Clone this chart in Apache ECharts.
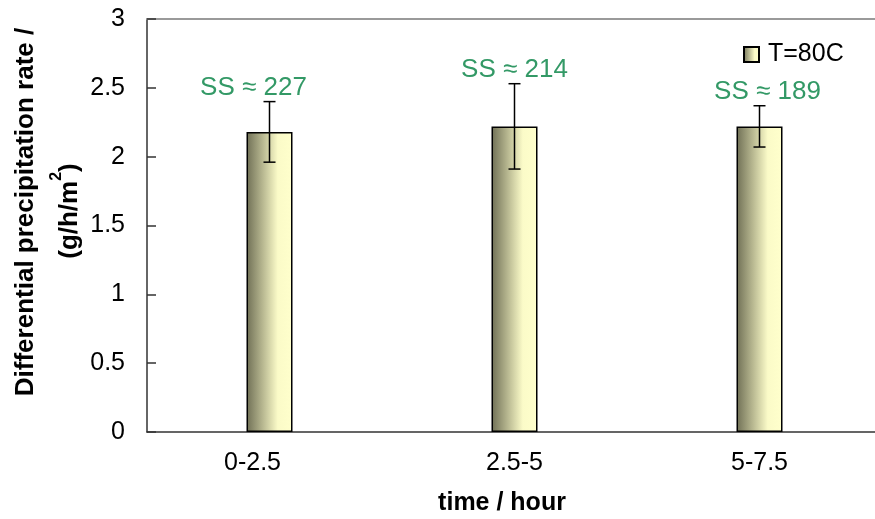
<!DOCTYPE html>
<html>
<head>
<meta charset="utf-8">
<script src="https://cdn.jsdelivr.net/npm/echarts@6/dist/echarts.min.js"></script>
<style>
  html, body { margin: 0; padding: 0; background: #fff; }
  #chart { width: 875px; height: 519px; }
</style>
</head>
<body>
<div id="chart"></div>
<script>
// Time windows (hours)
const categories = ['0-2.5', '2.5-5', '5-7.5'];
// Mean differential precipitation rate, g/h/m2
const rates = [2.18, 2.22, 2.22];
// Error bar half-widths
const rateErrors = [0.22, 0.31, 0.15];
// Supersaturation annotations
const ssValues = [227, 214, 189];
const seriesName = 'T=80C';
const yTicks = { min: 0, max: 3, step: 0.5 };

// Horizontal nudges for the SS annotations (px)
const ssLabelShift = [-16, 0, 8];

const FONT = 'Liberation Sans, Arial, sans-serif';

const barFill = {
  type: 'linear', x: 0, y: 0, x2: 1, y2: 0,
  colorStops: [
    { offset: 0, color: '#6f6f55' },
    { offset: 0.68, color: '#fbfbc8' },
    { offset: 1, color: '#ffffcc' }
  ]
};

const errorData = categories.map((c, i) => [
  i, rates[i] - rateErrors[i], rates[i] + rateErrors[i], ssValues[i]
]);

const chart = echarts.init(document.getElementById('chart'), null, { renderer: 'canvas' });

chart.setOption({
  animation: false,
  backgroundColor: '#fff',
  grid: {
    left: 147, top: 19, bottom: 87, right: -7,
    containLabel: false, outerBoundsMode: 'none'
  },
  legend: {
    data: [seriesName],
    left: 743, top: 42,
    padding: 0,
    itemWidth: 15, itemHeight: 15,
    icon: 'rect',
    textStyle: { fontFamily: FONT, fontSize: 25, color: '#000', padding: [0, 0, 0, 4] }
  },
  xAxis: [
    {
      type: 'category',
      data: categories,
      axisLine: { lineStyle: { color: '#333', width: 1.5 } },
      axisTick: { show: false },
      axisLabel: {
        margin: 19,
        fontFamily: FONT, fontSize: 25, color: '#000',
        formatter: (v, i) => i === 0 ? '{s|' + v + '}' : v,
        rich: { s: { fontFamily: FONT, fontSize: 25, color: '#000', padding: [0, 34, 0, 0] } }
      },
      splitLine: { show: false }
    },
    {
      // plain frame line along the top edge
      type: 'category',
      position: 'top',
      data: categories,
      axisLine: { lineStyle: { color: '#9a9a9a', width: 2 } },
      axisTick: { show: false },
      axisLabel: { show: false },
      splitLine: { show: false }
    }
  ],
  yAxis: {
    type: 'value',
    min: yTicks.min, max: yTicks.max, interval: yTicks.step,
    axisLine: { show: true, lineStyle: { color: '#333', width: 1.5 } },
    axisTick: { show: true, inside: true, length: 9, lineStyle: { color: '#333', width: 1.5 } },
    axisLabel: { margin: 22, fontFamily: FONT, fontSize: 25, color: '#000' },
    splitLine: { show: false }
  },
  graphic: [
    {
      type: 'text', x: 26, y: 212, rotation: Math.PI / 2,
      style: {
        text: 'Differential precipitation rate /',
        font: 'bold 26px ' + FONT, fill: '#000',
        align: 'center', verticalAlign: 'middle'
      }
    },
    {
      type: 'text', x: 66, y: 211, rotation: Math.PI / 2,
      style: {
        text: '{b|(g/h/m}{sup|2}{b|)}',
        align: 'center', verticalAlign: 'middle',
        rich: {
          b: { font: 'bold 26px ' + FONT, fill: '#000', lineHeight: 34, verticalAlign: 'bottom' },
          sup: { font: 'bold 16px ' + FONT, fill: '#000', lineHeight: 34, verticalAlign: 'top' }
        }
      }
    },
    {
      type: 'text', x: 502, y: 503,
      style: {
        text: 'time / hour',
        font: 'bold 25px ' + FONT, fill: '#000',
        align: 'center', verticalAlign: 'middle'
      }
    }
  ],
  series: [
    {
      name: seriesName,
      type: 'bar',
      data: rates,
      barWidth: 46,
      itemStyle: { color: barFill, borderColor: '#000', borderWidth: 1.5 }
    },
    {
      name: 'error',
      type: 'custom',
      data: errorData,
      z: 5,
      renderItem: (params, api) => {
        const i = api.value(0);
        const lo = api.coord([i, api.value(1)]);
        const hi = api.coord([i, api.value(2)]);
        const half = 6;
        const line = { stroke: '#000', lineWidth: 1.5 };
        return {
          type: 'group',
          children: [
            { type: 'line', shape: { x1: hi[0], y1: hi[1], x2: lo[0], y2: lo[1] }, style: line },
            { type: 'line', shape: { x1: hi[0] - half, y1: hi[1], x2: hi[0] + half, y2: hi[1] }, style: line },
            { type: 'line', shape: { x1: lo[0] - half, y1: lo[1], x2: lo[0] + half, y2: lo[1] }, style: line },
            {
              type: 'text',
              x: hi[0] + ssLabelShift[params.dataIndex], y: hi[1] - 14,
              style: {
                text: 'SS \u2248 ' + api.value(3),
                font: '26px ' + FONT, fill: '#339966',
                align: 'center', verticalAlign: 'middle'
              }
            }
          ]
        };
      }
    }
  ]
});
</script>
</body>
</html>
